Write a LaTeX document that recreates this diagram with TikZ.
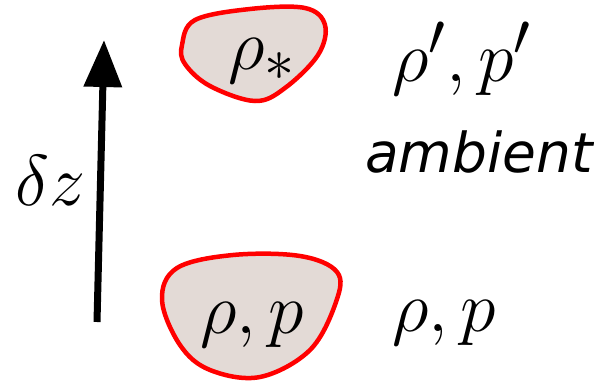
\documentclass[tikz,border=0pt]{standalone}
\usepackage{fontspec}
\newfontfamily\ambfont{DejaVu Sans}
\usetikzlibrary{arrows.meta}
\definecolor{parcelfill}{RGB}{227,218,214}
\tikzset{
  parcel/.style={draw=red, line width=4.5pt, fill=parcelfill},
  mathlbl/.style={inner sep=0pt, scale=2.894, transform shape, font=\fontsize{24.88}{30}\selectfont},
}
\begin{document}
\begin{tikzpicture}[x=1pt, y=-1pt]
\useasboundingbox (0,0) rectangle (594,385);
% parcels
\draw[parcel] plot[smooth cycle, tension=0.6] coordinates {(182,45) (195,20) (250,9) (305,8) (325,25) (318,55) (285,88) (255,101) (210,86) (185,64)};
\draw[parcel] plot[smooth cycle, tension=0.6] coordinates {(162,300) (177,268) (233,255) (300,256) (337,272) (336,302) (310,350) (260,377) (210,370) (180,345)};
\node[mathlbl, anchor=base west] (rhostar) at (228,70) {$\rho_*$};
\node[mathlbl, anchor=base west] (rhop) at (200,333) {$\rho, p$};
% ambient
\node[mathlbl, anchor=base west] (primed) at (392,82) {$\rho', p'$};
\node[inner sep=0pt, anchor=base west, font=\ambfont\itshape\fontsize{55}{60}\selectfont] (amb) at (365,172) {ambient};
\node[mathlbl, anchor=base west] (ambrhop) at (392,331) {$\rho, p$};
% displacement
\coordinate (base) at (97,322);
\coordinate (tip) at (104,40);
\draw[line width=7pt, -{Triangle[length=47pt, width=37pt]}] (base) -- (tip);
\node[mathlbl, anchor=base west] (dz) at (15,205) {$\delta z$};
\end{tikzpicture}
\end{document}
